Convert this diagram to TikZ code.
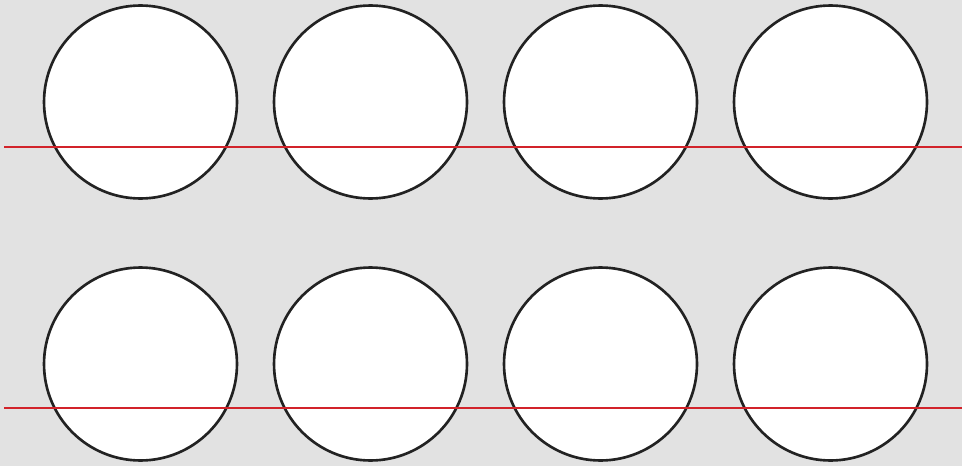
\documentclass[tikz,border=0pt]{standalone}
\usepackage{xcolor}
\usepackage{tikz}
\usetikzlibrary{positioning}

\definecolor{bggray}{HTML}{E2E2E2}
\definecolor{cutred}{HTML}{D2232A}
\definecolor{rimblack}{HTML}{222222}

\begin{document}
\begin{tikzpicture}[
    x=0.02cm, y=-0.02cm,
    disc/.style={circle, draw=rimblack, fill=white, line width=1.5pt,
                 minimum size=3.86cm, inner sep=0pt, outer sep=0pt},
    cutline/.style={draw=cutred, line width=1.35pt},
]

% ── background, fixes the page size ───────────────────────────────
\fill[bggray] (0,0) rectangle (962,466);
\useasboundingbox (0,0) rectangle (962,466);

% ── Row A  y=102 : upper discs ───────────────────────────────────
\foreach \i/\cx in {1/140.5, 2/370.5, 3/600.5, 4/830.5}
    \node[disc] (upper\i) at (\cx,102) {};

% ── Row B  y=364 : lower discs ───────────────────────────────────
\foreach \i/\cx in {1/140.5, 2/370.5, 3/600.5, 4/830.5}
    \node[disc] (lower\i) at (\cx,364) {};

% ── cut lines ────────────────────────────────────────────────────
\coordinate (upperstart) at (4,147);
\coordinate (upperend)   at (962,147);
\coordinate (lowerstart) at (4,408);
\coordinate (lowerend)   at (962,408);

\draw[cutline] (upperstart) -- (upperend);
\draw[cutline] (lowerstart) -- (lowerend);

\end{tikzpicture}
\end{document}
